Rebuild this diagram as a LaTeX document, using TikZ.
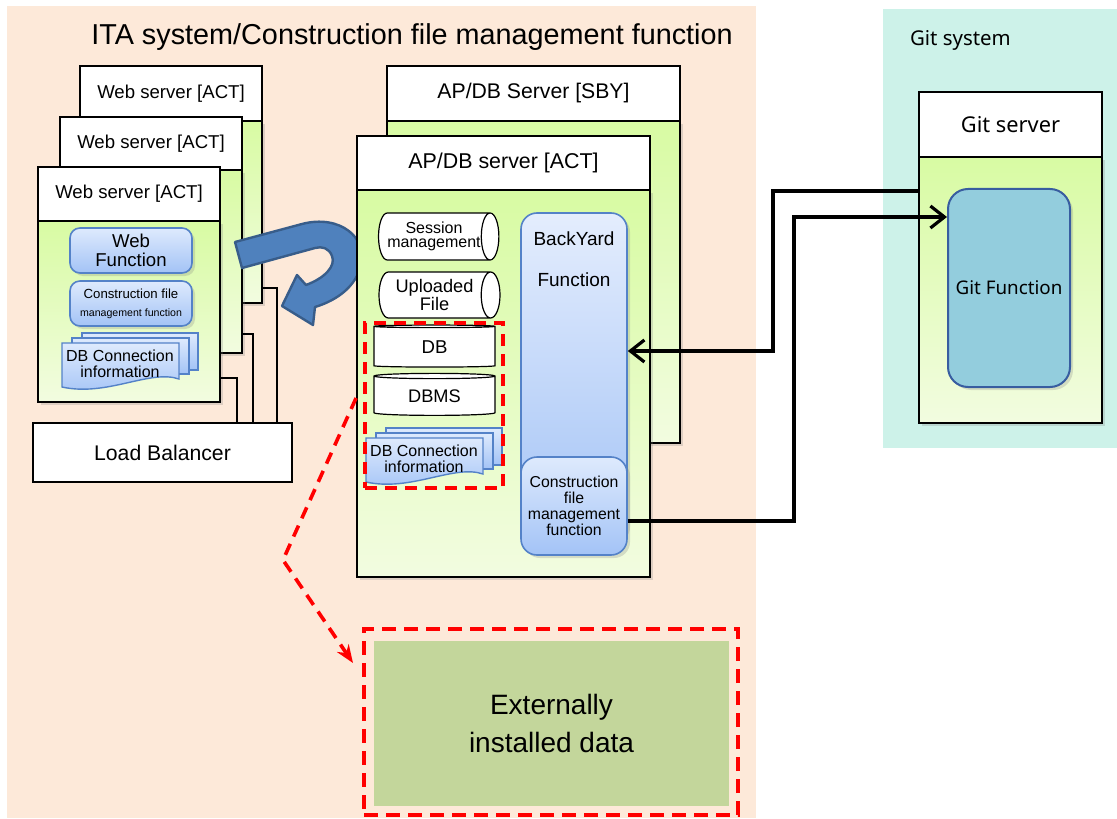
\documentclass[tikz,border=0pt]{standalone}
\usepackage{fontspec}
\setmainfont{Liberation Sans}
\newfontfamily\gitfont{Noto Sans}
\usetikzlibrary{shapes.geometric,shadows,arrows.meta}

\definecolor{peach}{RGB}{253,233,217}
\definecolor{gitbg}{RGB}{205,242,233}
\definecolor{bodytop}{RGB}{216,251,163}
\definecolor{bodybot}{RGB}{242,252,224}
\definecolor{fntop}{RGB}{222,234,253}
\definecolor{fnbot}{RGB}{163,195,246}
\definecolor{bytop}{RGB}{228,237,253}
\definecolor{fnline}{RGB}{84,130,200}
\definecolor{gitfn}{RGB}{147,205,221}
\definecolor{gitline}{RGB}{56,93,160}
\definecolor{extgreen}{RGB}{195,214,155}
\definecolor{uturn}{RGB}{79,129,189}
\definecolor{uturnline}{RGB}{56,93,138}

\newcommand{\fs}[1]{\fontsize{#1}{1.15\dimexpr#1pt\relax}\selectfont}

% stacked document symbol, #1 name, (#2,#3) top left corner, #4 text
\newcommand{\dbinfo}[4]{%
  \begin{scope}[shift={(#2,#3)}]
    \draw[docpage] (20,-10) rectangle (136,27);
    \draw[docpage] (10,-5) rectangle (127,31);
    \draw[docpage] (0,0) -- (117,0) -- (117,36) .. controls (88,26) and (45,54) .. (0,44) -- cycle;
    \node[font=\fs{8},align=center,inner sep=0pt] (#1) at (58,21) {#4};
  \end{scope}}

\tikzset{
  shade/.style={drop shadow={opacity=.25,shadow xshift=1.5pt,shadow yshift=-1.5pt}},
  head/.style={draw,fill=white,line width=.9pt,inner sep=0pt},
  body/.style={draw,line width=.9pt,top color=bodytop,bottom color=bodybot,inner sep=0pt,shade},
  fnbox/.style={draw=fnline,line width=.8pt,rounded corners=5pt,top color=fntop,bottom color=fnbot,
    align=center,inner sep=0pt,shade},
  docpage/.style={draw=fnline,line width=.7pt,top color=fntop,bottom color=fnbot},
  store/.style={cylinder,draw,fill=white,line width=.6pt,inner sep=0pt,align=center},
  wire/.style={line width=.6pt},
  conn/.style={line width=1.6pt,-{Straight Barb[length=7pt,width=11pt]}},
  reddash/.style={draw=red,line width=1.8pt,dash pattern=on 6pt off 4pt},
}

\begin{document}
\begin{tikzpicture}[x=0.5pt,y=-0.5pt]
\useasboundingbox (0,0) rectangle (1117,818);
\fill[peach] (7,6) rectangle (756,818);
\fill[gitbg] (883,9) rectangle (1117,448);

\node[font=\fs{14.4}] (title) at (412,37) {ITA system/Construction file management function};
\node[font=\gitfont\fs{10.2},anchor=west] (gitsys) at (903,40) {Git system};

% web servers, back to front
\node[body,minimum width=91pt,minimum height=91pt] (web3b) at (171,212) {};
\node[head,minimum width=91pt,minimum height=27.5pt,font=\fs{9.3}] (web3h) at (171,93.5) {Web server [ACT]};
\node[body,minimum width=91pt,minimum height=91.5pt] (web2b) at (151,261.5) {};
\node[head,minimum width=91pt,minimum height=26.5pt,font=\fs{9.3}] (web2h) at (151,143.5) {Web server [ACT]};
\node[body,minimum width=91pt,minimum height=90.5pt] (web1b) at (129,311.5) {};
\node[head,minimum width=91pt,minimum height=27pt,font=\fs{9.3}] (web1h) at (129,194) {Web server [ACT]};

\node[fnbox,minimum width=61pt,minimum height=22.5pt,font=\fs{9.3}] (webfn) at (131,250.5) {Web\\[-1pt]Function};
\node[fnbox,minimum width=61pt,minimum height=22.5pt] (webcfm) at (131,303.5)
  {{\fs{6.6}Construction file}\\[-3pt]{\fs{5.3}management function}};
\dbinfo{webdb}{62}{343}{DB Connection\\[-1pt]information}

% load balancer
\node[head,minimum width=129.5pt,minimum height=29.5pt,font=\fs{10.6}] (lb) at (162.5,452.5) {Load Balancer};
\draw[wire] (lb.north -| 277,0) |- (web3b.east |- 0,288);
\draw[wire] (lb.north -| 253,0) |- (web2b.east |- 0,334);
\draw[wire] (lb.north -| 237,0) |- (web1b.east |- 0,378);

% turn-back arrow
\draw[fill=uturn,draw=uturnline,line width=1.2pt,line join=round]
  (235,242) -- (302,224) .. controls (340,214) and (368,238) .. (361,265)
  .. controls (356,286) and (338,300) .. (315,307) -- (313,325) -- (282,306) -- (297,275) -- (306,285)
  .. controls (325,278) and (336,266) .. (332,256) .. controls (329,248) and (322,246) .. (315,248)
  -- (242,268) -- cycle;

% AP/DB servers
\node[body,minimum width=146.5pt,minimum height=161pt] (sbyb) at (533.5,282) {};
\node[head,minimum width=146.5pt,minimum height=27.5pt,font=\fs{10.6}] (sbyh) at (533.5,93.5) {AP/DB Server [SBY]};
\node[body,minimum width=146.5pt,minimum height=193.5pt] (actb) at (503.5,383.5) {};
\node[head,minimum width=146.5pt,minimum height=27pt,font=\fs{10.7}] (acth) at (503.5,163) {AP/DB server [ACT]};

\node[store,minimum height=60pt,minimum width=23.5pt,aspect=.6,font=\fs{8}] (session) at (434,236.5) {Session\\[-2pt]management};
\node[store,minimum height=60.5pt,minimum width=23pt,aspect=.6,font=\fs{9.1}] (upload) at (434.5,295) {Uploaded\\[-1.5pt]File};
\node[store,shape border rotate=90,minimum width=60.5pt,minimum height=21pt,aspect=.1,font=\fs{9.3}] (db) at (434.5,347) {DB};
\node[store,shape border rotate=90,minimum width=60.5pt,minimum height=21pt,aspect=.1,font=\fs{9.1}] (dbms) at (434.5,396) {DBMS};
\dbinfo{apdb}{366}{438}{DB Connection\\[-1pt]information}
\node[reddash,minimum width=69pt,minimum height=82.5pt] (dbarea) at (434,405.5) {};

\node[fnbox,rounded corners=8pt,top color=bytop,minimum width=53pt,minimum height=163.5pt,
  label={[anchor=north,yshift=-6pt,font=\fs{9.5},align=center]north:BackYard\\[10pt]Function}] (backyard) at (574,376.5) {};
\node[fnbox,rounded corners=8pt,minimum width=53pt,minimum height=49pt,font=\fontsize{7.9}{8}\selectfont] (cfm) at (574,506)
  {Construction\\file\\management\\function};
\draw[reddash,-{Stealth[length=9pt,width=7pt]}] (actb.west |- 0,398) -- (283,560) -- (353,663);

% git server
\node[body,minimum width=91.5pt,minimum height=133pt] (gitb) at (1010.5,290) {};
\node[head,minimum width=91.5pt,minimum height=32.5pt,font=\gitfont\fs{10.9}] (gith) at (1010.5,124.5) {Git server};
\node[draw=gitline,fill=gitfn,line width=1pt,rounded corners=10pt,minimum width=61pt,minimum height=99pt,
  shade,font=\gitfont\fs{9.4}] (gitfn) at (1009,288) {Git Function};

\draw[conn] (gitb.west |- 0,191) -| (773,351) -- (backyard.east |- 0,351);
\draw[conn] (cfm.east |- 0,521) -| (794,217) -- (gitfn.west |- 0,217);

% externally installed data
\node[reddash,line width=2pt,dash pattern=on 7pt off 4pt,minimum width=187pt,minimum height=93pt] (extbox) at (551,722) {};
\node[fill=extgreen,minimum width=177.5pt,minimum height=82.5pt,align=center,font=\fontsize{14}{19}\selectfont] (ext) at (551.5,723.5)
  {Externally\\installed data};
\end{tikzpicture}
\end{document}
